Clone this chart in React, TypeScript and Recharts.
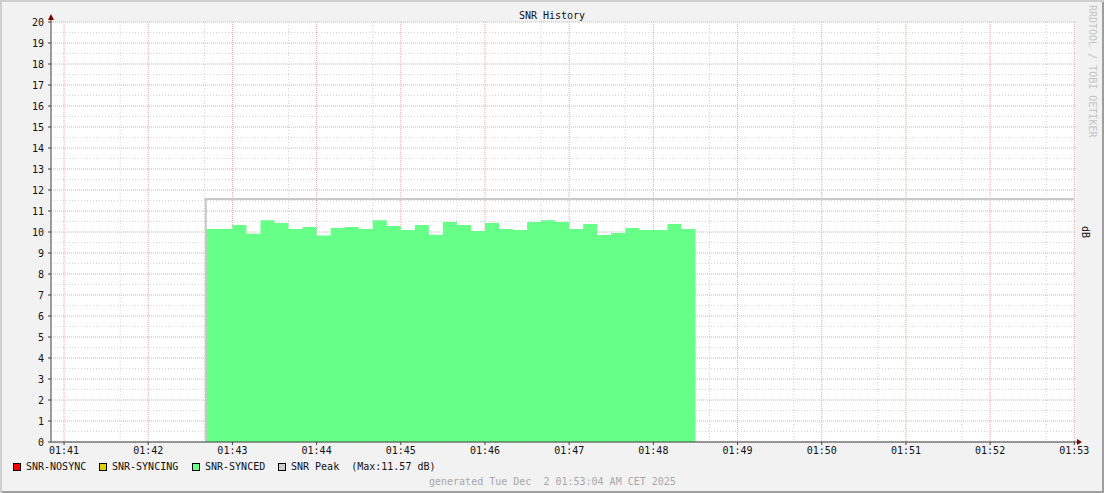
import React from "react";
import { ComposedChart, Area, Line, XAxis, YAxis, CartesianGrid } from "recharts";

if (typeof document !== "undefined") document.body.style.margin = "0";

// SNR samples (10 s steps), times as hh:mm:ss
const syncedTimes = [
  "01:42:41", "01:42:50", "01:43:00", "01:43:10", "01:43:20", "01:43:30", "01:43:40", "01:43:50",
  "01:44:00", "01:44:10", "01:44:20", "01:44:30", "01:44:40", "01:44:50", "01:45:00", "01:45:10",
  "01:45:20", "01:45:30", "01:45:40", "01:45:50", "01:46:00", "01:46:10", "01:46:20", "01:46:30",
  "01:46:40", "01:46:50", "01:47:00", "01:47:10", "01:47:20", "01:47:30", "01:47:40", "01:47:50",
  "01:48:00", "01:48:10", "01:48:20", "01:48:30",
];
const syncedValues = [
  10.14, 10.14, 10.33, 9.92, 10.56, 10.43, 10.14, 10.24,
  9.83, 10.19, 10.24, 10.14, 10.56, 10.29, 10.1, 10.33,
  9.87, 10.48, 10.33, 10.05, 10.43, 10.14, 10.1, 10.48,
  10.56, 10.48, 10.14, 10.38, 9.86, 9.95, 10.19, 10.1,
  10.1, 10.38, 10.14, 10.14,
];

const peakTimes = ["01:42:41", "01:42:41", "01:53:00"];
const peakValues = [0, 11.57, 11.57];

const xTickLabels = [
  "01:41", "01:42", "01:43", "01:44", "01:45", "01:46", "01:47",
  "01:48", "01:49", "01:50", "01:51", "01:52", "01:53",
];
const yTicks = [0, 1, 2, 3, 4, 5, 6, 7, 8, 9, 10, 11, 12, 13, 14, 15, 16, 17, 18, 19, 20];

const legendItems = [
  { name: "SNR-NOSYNC", color: "#ff0000" },
  { name: "SNR-SYNCING", color: "#e0d000" },
  { name: "SNR-SYNCED", color: "#66ff88" },
  { name: "SNR Peak  (Max:11.57 dB)", color: "#cccccc" },
];

// seconds since 01:40:00
const toSec = (s: string) => {
  const [h, m, sec] = s.split(":").map(Number);
  return h * 3600 + m * 60 + (sec || 0) - (3600 + 40 * 60);
};
const pad = (n: number) => String(n).padStart(2, "0");
const fmtTime = (v: number) => {
  const total = v + 3600 + 40 * 60;
  return `${pad(Math.floor(total / 3600))}:${pad(Math.floor((total % 3600) / 60))}`;
};

const syncedData = syncedTimes.map((t, i) => ({ t: toSec(t), v: syncedValues[i] }));
const peakData = peakTimes.map((t, i) => ({ t: toSec(t), v: peakValues[i] }));
const xTicks = xTickLabels.map(toSec);

const majorY = yTicks;
const minorY = yTicks.slice(0, -1).map((v) => v + 0.5);
const minorX = xTicks.flatMap((t) => [t - 40, t - 20]).filter((t) => t > 51);

const FONT = "'DejaVu Sans Mono', monospace";
const W = 1104;
const H = 493;

export default function App() {
  return (
    <div
      style={{
        position: "relative",
        width: W,
        height: H,
        background: "#f2f2f2",
        boxShadow: "inset 2px 2px 0 #cfcfcf, inset -2px -2px 0 #9e9e9e",
        fontFamily: FONT,
      }}
    >
      <ComposedChart width={W} height={H} margin={{ top: 22, right: 28, left: 0, bottom: 0 }}>
        <CartesianGrid
          fill="#ffffff"
          stroke="#d4d4d4"
          strokeDasharray="1 2"
          horizontalValues={minorY}
          verticalValues={minorX}
        />
        <CartesianGrid
          stroke="#f0a4a4"
          strokeDasharray="1 1"
          horizontalValues={majorY}
          verticalValues={xTicks}
        />
        <XAxis
          type="number"
          dataKey="t"
          domain={[50.7, 781.2]}
          allowDataOverflow
          ticks={xTicks}
          tickFormatter={fmtTime}
          height={51}
          tickSize={3}
          tickMargin={2}
          axisLine={{ stroke: "#404040" }}
          tickLine={{ stroke: "#404040" }}
          tick={{ fill: "#111", fontSize: 10, fontFamily: FONT }}
        />
        <YAxis
          type="number"
          domain={[0, 20]}
          ticks={yTicks}
          interval={0}
          width={51}
          tickSize={3}
          tickMargin={4}
          axisLine={{ stroke: "#404040" }}
          tickLine={{ stroke: "#404040" }}
          tick={{ fill: "#111", fontSize: 10, fontFamily: FONT }}
        />
        <Area
          data={syncedData}
          dataKey="v"
          type="stepAfter"
          fill="#66ff88"
          fillOpacity={1}
          stroke="none"
          isAnimationActive={false}
        />
        <Line
          data={peakData}
          dataKey="v"
          type="linear"
          stroke="#c8c8c8"
          strokeWidth={2}
          dot={false}
          isAnimationActive={false}
        />
      </ComposedChart>
      <svg
        width={W}
        height={H}
        style={{ position: "absolute", left: 0, top: 0, pointerEvents: "none" }}
        fontFamily={FONT}
      >
        <line x1={51} y1={22} x2={51} y2={17} stroke="#404040" />
        <line x1={1076} y1={442} x2={1079} y2={442} stroke="#404040" />
        <polygon points="48,20 54,20 51,14" fill="#7f0000" />
        <polygon points="1077,439 1077,445 1082,442" fill="#7f0000" />
        <text x={552} y={19} textAnchor="middle" fontSize={10} fill="#111">
          SNR History
        </text>
        <text x={1089} y={5} fontSize={10} fill="#c4c4c4" transform="rotate(90 1089 5)">
          RRDTOOL / TOBI OETIKER
        </text>
        <text x={1082} y={226} fontSize={10} fill="#111" transform="rotate(90 1082 226)">
          dB
        </text>
        {legendItems.map((it, i) => {
          const xs = [13, 99, 192, 278][i];
          return (
            <g key={it.name}>
              <rect x={xs + 0.5} y={463.5} width={7} height={7} fill={it.color} stroke="#000" />
              <text x={xs + 13} y={470} fontSize={10} fill="#111" style={{ whiteSpace: "pre" }}>
                {it.name}
              </text>
            </g>
          );
        })}
        <text x={429} y={485} fontSize={10} fill="#a8a8a8" style={{ whiteSpace: "pre" }}>
          generated Tue Dec  2 01:53:04 AM CET 2025
        </text>
      </svg>
    </div>
  );
}
